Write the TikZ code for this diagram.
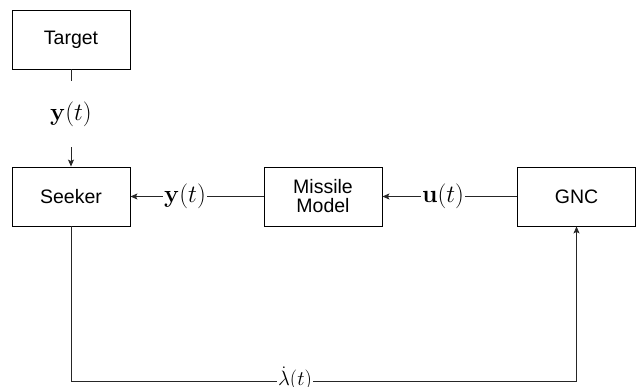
\documentclass[tikz,border=0pt]{standalone}
\usepackage{amsmath}
\usepackage[no-math]{fontspec}
\setmainfont{Liberation Sans}
\usetikzlibrary{arrows.meta}
\begin{document}
\begin{tikzpicture}[x=1pt,y=-1pt,
  blk/.style={draw=black, line width=0.9pt, minimum width=118pt, minimum height=59pt, inner sep=0pt, align=center, font=\fontsize{19.5}{22}\selectfont},
  lbl/.style={inner sep=1pt, fill=white, font=\fontsize{23}{26}\selectfont},
  conn/.style={line width=0.9pt, draw=black!85},
  arr/.style={conn, -{Stealth[length=7pt,width=6pt,inset=1.5pt]}}]
\useasboundingbox (0,0) rectangle (637,387);
\node[blk] (T) at (71,39.5) {Target};
\node[blk] (S) at (71,196.5) {Seeker};
\node[blk] (M) at (323,196.5) {Missile\\[-3pt]Model};
\node[blk] (G) at (576.5,196.5) {GNC};
\node[lbl, fill=none, minimum height=66pt] (L1) at (71,114) {$\mathbf{y}(t)$};
\draw[conn] (T.south) -- (L1.north);
\draw[arr] (L1.south) -- (S.north);
\draw[arr] (M.west) -- (S.east) node[lbl, pos=0.59] (L2) {$\mathbf{y}(t)$};
\draw[arr] (G.west) -- (M.east) node[lbl, pos=0.55] (L3) {$\mathbf{u}(t)$};
\coordinate (C1) at (71,381);
\coordinate (C2) at (576.5,381);
\node[lbl, font=\fontsize{21}{24}\selectfont] (L4) at (295,379) {$\dot{\lambda}(t)$};
\draw[conn] (S.south) -- (C1) -- (C1 -| L4.west);
\draw[arr] (C1 -| L4.east) -- (C2) -- (G.south);
\end{tikzpicture}
\end{document}
